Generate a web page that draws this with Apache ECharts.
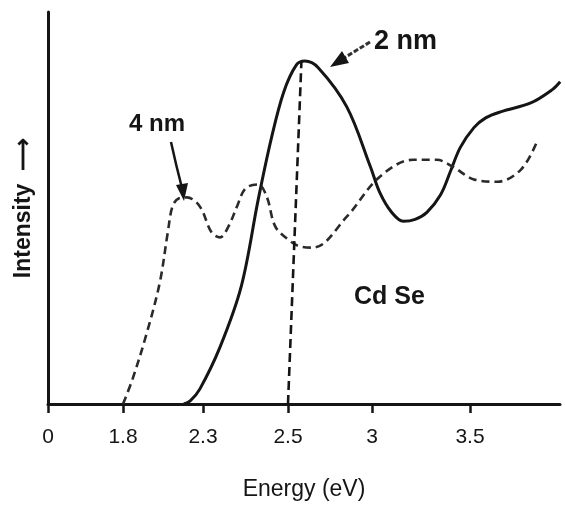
<!DOCTYPE html>
<html>
<head>
<meta charset="utf-8">
<script src="https://cdn.jsdelivr.net/npm/echarts@6.0.0/dist/echarts.min.js"></script>
<style>
  html, body { margin: 0; padding: 0; background: #fff; }
  #main { width: 565px; height: 506px; }
</style>
</head>
<body>
<div id="main"></div>
<script>
// tick labels on the energy axis (eV) - the axis in the figure is not linear
var tickEnergy = [0, 1.8, 2.3, 2.5, 3, 3.5];
var tickLabels = ['0', '1.8', '2.3', '2.5', '3', '3.5'];
// where each tick sits along the axis (axis units, 0..512)
var tickPos = [0, 75, 155, 240, 324, 422];

// 2 nm CdSe (solid)
var energy2nm = [2.18, 2.22, 2.28, 2.34, 2.39, 2.43, 2.46, 2.49, 2.55, 2.60, 2.68, 2.85, 2.99, 3.04, 3.10, 3.16, 3.22, 3.28, 3.35, 3.40, 3.45, 3.52, 3.58, 3.66, 3.81, 3.92, 3.96];
var intensity2nm = [0, 0.8, 3.8, 14.5, 30.0, 52.2, 67.4, 79.6, 86.5, 87.5, 85.8, 75.8, 60.6, 53.9, 48.9, 46.6, 47.1, 48.9, 53.4, 59.3, 65.4, 70.5, 73.0, 74.6, 76.8, 80.2, 82.2];

// 4 nm CdSe (dashed)
var energy4nm = [1.8, 1.86, 1.95, 2.03, 2.08, 2.11, 2.15, 2.20, 2.28, 2.32, 2.34, 2.36, 2.38, 2.40, 2.43, 2.45, 2.47, 2.50, 2.57, 2.65, 2.85, 3.04, 3.21, 3.33, 3.41, 3.52, 3.64, 3.76, 3.84];
var intensity4nm = [0, 6.4, 18.3, 31.0, 43.8, 50.5, 52.5, 52.7, 50.4, 43.8, 42.5, 45.3, 50.4, 55.0, 56.0, 52.9, 45.3, 42.0, 40.2, 39.9, 47.8, 58.0, 62.3, 62.3, 60.6, 57.3, 56.7, 59.8, 66.7];

// drop line from the 2 nm peak to the 2.5 eV tick
var dropEnergy = [2.5, 2.58];
var dropIntensity = [0, 87.5];

// energy -> axis position, piecewise between the printed ticks
function warp(e) {
    var n = tickEnergy.length;
    for (var i = 0; i < n - 1; i++) {
        if (e <= tickEnergy[i + 1]) {
            var t = (e - tickEnergy[i]) / (tickEnergy[i + 1] - tickEnergy[i]);
            return tickPos[i] + t * (tickPos[i + 1] - tickPos[i]);
        }
    }
    // past last tick keep the last spacing
    var slope = (tickPos[n - 1] - tickPos[n - 2]) / (tickEnergy[n - 1] - tickEnergy[n - 2]);
    return tickPos[n - 1] + (e - tickEnergy[n - 1]) * slope;
}
function pairs(xs, ys) {
    return xs.map((e, i) => [warp(e), ys[i]]);
}

var chartDom = document.getElementById('main');
var myChart = echarts.init(chartDom);
var option;
var ink = '#151515';
var font = 'Liberation Sans, Arial, sans-serif';

option = {
    backgroundColor: '#fff',
    animation: false,
    grid: { left: 48, right: 5, top: 12, bottom: 101 },
    xAxis: {
        type: 'value',
        min: 0,
        max: 512,
        name: 'Energy (eV)',
        nameLocation: 'middle',
        nameGap: 74,
        nameTextStyle: { color: ink, fontSize: 23, fontFamily: font },
        axisLine: { lineStyle: { color: ink, width: 3 } },
        axisTick: {
            customValues: tickEnergy.map(warp),
            length: 9,
            lineStyle: { color: ink, width: 2.5 }
        },
        axisLabel: {
            customValues: tickEnergy.map(warp),
            margin: 23,
            color: ink,
            fontSize: 21,
            fontFamily: font,
            formatter: v => {
                var i = tickEnergy.findIndex(e => Math.abs(warp(e) - v) < 0.5);
                return i >= 0 ? tickLabels[i] : '';
            }
        },
        splitLine: { show: false }
    },
    yAxis: {
        type: 'value',
        min: 0,
        max: 100,
        name: 'Intensity  ⟶',
        nameLocation: 'middle',
        nameRotate: 90,
        nameGap: 13,
        nameTextStyle: { color: ink, fontSize: 23, fontWeight: 'bold', fontFamily: font },
        axisLine: { show: true, lineStyle: { color: ink, width: 3 } },
        axisTick: { show: false },
        axisLabel: { show: false },
        splitLine: { show: false }
    },
    series: [
        {
            name: '2 nm',
            type: 'line',
            data: pairs(energy2nm, intensity2nm),
            smooth: 0.35,
            showSymbol: false,
            lineStyle: { color: ink, width: 3 }
        },
        {
            name: '4 nm',
            type: 'line',
            data: pairs(energy4nm, intensity4nm),
            smooth: 0.35,
            showSymbol: false,
            lineStyle: { color: '#2a2a2a', width: 2.6, type: [8, 5] }
        },
        {
            name: 'peak',
            type: 'line',
            data: pairs(dropEnergy, dropIntensity),
            showSymbol: false,
            lineStyle: { color: ink, width: 2.6, type: [9, 5] }
        }
    ],
    graphic: [
        { type: 'text', left: 129, top: 112, style: { text: '4 nm', fill: ink, font: 'bold 24px ' + font } },
        { type: 'text', left: 374, top: 28, style: { text: '2 nm', fill: ink, font: 'bold 27px ' + font } },
        { type: 'text', left: 354, top: 285, style: { text: 'Cd Se', fill: ink, font: 'bold 25px ' + font } },
        // 4 nm arrow
        { type: 'bezierCurve', shape: { x1: 171, y1: 142, cpx1: 176, cpy1: 165, x2: 182, y2: 188 }, style: { stroke: ink, lineWidth: 2.5, fill: null } },
        { type: 'polygon', shape: { points: [[184, 201], [176, 185], [188, 183]] }, style: { fill: ink } },
        // 2 nm arrow
        { type: 'line', shape: { x1: 370, y1: 42, x2: 344, y2: 58 }, style: { stroke: '#333', lineWidth: 3, lineDash: [5, 2] } },
        { type: 'polygon', shape: { points: [[330, 67], [342, 51], [349, 63]] }, style: { fill: ink } }
    ]
};

option && myChart.setOption(option);
</script>
</body>
</html>
